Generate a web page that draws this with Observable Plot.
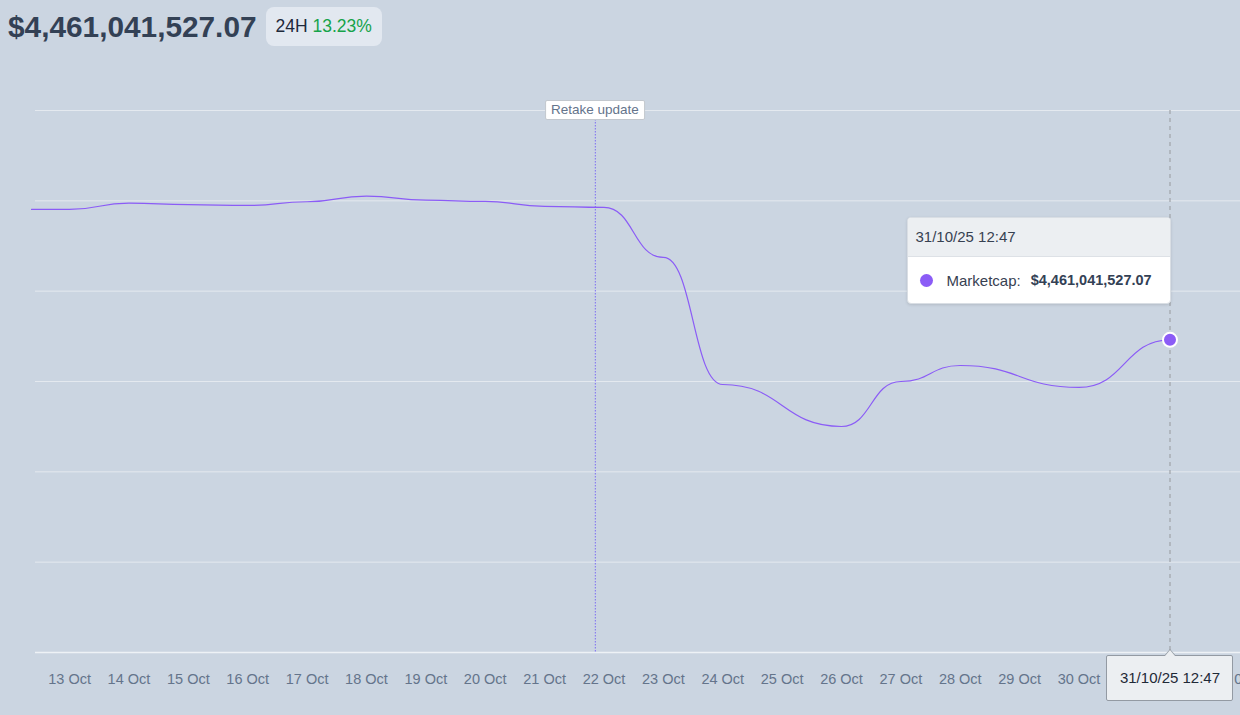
<!DOCTYPE html>
<html>
<head>
<meta charset="utf-8">
<script src="https://cdn.jsdelivr.net/npm/d3@7"></script>
<script src="https://cdn.jsdelivr.net/npm/@observablehq/plot@0.6"></script>
<style>
html,body{margin:0;padding:0;background:#cbd5e1;width:1240px;height:715px;overflow:hidden;font-family:"Liberation Sans",Arial,Helvetica,sans-serif;}
#wrap{position:relative;width:1240px;height:715px;overflow:hidden;}
#chart{position:absolute;left:0;top:0;}
#header{position:absolute;left:8px;top:7px;height:39px;display:flex;align-items:center;}
#big{font-size:29.8px;font-weight:700;color:#334155;white-space:nowrap;}
#badge{margin-left:9px;background:#e2e8f0;border-radius:8px;height:39px;line-height:39px;padding:0 10px;font-size:17.5px;color:#1e293b;white-space:nowrap;}
#badge .up{color:#16a34a;}
.annot{position:absolute;background:#fff;border:1px solid #c3c8ce;border-radius:2px;font-size:13.5px;color:#64748b;padding:0 5px;height:18px;line-height:18px;white-space:nowrap;transform:translate(-50%,-50%);}
#tip{position:absolute;width:262px;background:#fff;border:1px solid #d9dee4;border-radius:4px;box-shadow:0 1px 3px rgba(0,0,0,0.12);overflow:hidden;}
#tip .hd{background:#eceff2;height:38px;line-height:38px;padding-left:7px;font-size:15px;color:#374151;border-bottom:1px solid #dde1e6;}
#tip .bd{height:46px;display:flex;align-items:center;padding-left:12px;font-size:15px;color:#374151;}
#tip .sw{width:13px;height:13px;border-radius:50%;background:#8b5cf6;margin-right:13px;}
#tip .val{font-weight:700;font-size:14.5px;color:#334155;margin-left:10px;}
#xlab{position:absolute;width:125px;height:44px;line-height:44px;text-align:center;background:#eceff2;border:1px solid #939aa3;border-radius:2px;font-size:15px;color:#1f2937;}
#xlab:before{content:"";position:absolute;left:50%;top:-7px;margin-left:-6px;border-left:6px solid transparent;border-right:6px solid transparent;border-bottom:7px solid #939aa3;}
#xlab:after{content:"";position:absolute;left:50%;top:-6px;margin-left:-5px;border-left:5px solid transparent;border-right:5px solid transparent;border-bottom:6px solid #eceff2;}
</style>
</head>
<body>
<div id="wrap">
  <div id="chart"></div>
  <div id="header"><div id="big"></div><div id="badge"></div></div>
</div>
<script>
// ---- data ----
const dates = [
  "2025-10-12T08:36Z","2025-10-13T00:00Z","2025-10-14T00:00Z","2025-10-15T00:00Z","2025-10-16T00:00Z",
  "2025-10-17T00:00Z","2025-10-18T00:00Z","2025-10-19T00:00Z","2025-10-20T00:00Z","2025-10-21T00:00Z",
  "2025-10-22T00:00Z","2025-10-23T00:00Z","2025-10-24T00:00Z","2025-10-26T00:00Z",
  "2025-10-27T00:00Z","2025-10-28T00:00Z","2025-10-30T00:00Z",
  "2025-10-31T12:47Z"
];
const marketcap = [
  5.905e9, 5.905e9, 5.975e9, 5.957e9, 5.949e9,
  5.990e9, 6.052e9, 6.008e9, 5.993e9, 5.938e9,
  5.927e9, 5.373e9, 3.967e9, 3.502e9,
  4.000e9, 4.177e9, 3.934e9,
  4461041527.07
];
const xDomain = ["2025-10-12T08:36Z", "2025-11-03T00:00Z"];
const yDomain = [1e9, 7e9];
const yGridValues = [1e9, 2e9, 3e9, 4e9, 5e9, 6e9, 7e9];
const annotationDate = "2025-10-21T20:30Z";
const annotationLabel = "Retake update";
const change24h = 13.23;
const seriesName = "Marketcap";

// ---- build ----
const data = dates.map((d, i) => ({date: new Date(d), cap: marketcap[i]}));
const last = data[data.length - 1];
const xd = xDomain.map(d => new Date(d));
const money = v => "$" + d3.format(",.2f")(v);
const stamp = d3.utcFormat("%d/%m/%y %H:%M");
// day ticks, leaving out the ones that sit under the crosshair label box
const allTicks = d3.utcDay.range(d3.utcDay.ceil(xd[0]), xd[1]);
const hidden = [d3.utcDay.floor(last.date), d3.utcDay.ceil(last.date)].map(d => +d);
const tickDates = allTicks.filter(d => !hidden.includes(+d));

const chart = Plot.plot({
  width: 1316,
  height: 715,
  marginTop: 110,
  marginBottom: 63,
  marginLeft: 31,
  marginRight: 0,
  style: {background: "transparent", maxWidth: "none", overflow: "visible", fontFamily: '"Liberation Sans", Arial, sans-serif', fontSize: "14.5px"},
  x: {type: "utc", domain: xd},
  y: {domain: yDomain, axis: null},
  marks: [
    Plot.ruleY(yGridValues.slice(1), {stroke: "#e4e9ef", strokeWidth: 1, insetLeft: 4}),
    Plot.ruleY([yDomain[0]], {stroke: "#eef2f6", strokeWidth: 1.5, insetLeft: 4}),
    Plot.axisX(tickDates, {tickSize: 0, tickPadding: 21, tickFormat: d3.utcFormat("%d %b"), color: "#64748b", fontSize: 14.5}),
    Plot.ruleX([new Date(annotationDate)], {stroke: "#7c6cf2", strokeWidth: 1, strokeDasharray: "1.5,1.5", y1: yDomain[1], y2: yDomain[0]}),
    Plot.ruleX([last.date], {stroke: "#a3a8ae", strokeWidth: 1.3, strokeDasharray: "4,4", y1: yDomain[1], y2: yDomain[0]}),
    Plot.line(data, {x: "date", y: "cap", curve: "bump-x", stroke: "#8b5cf6", strokeWidth: 1.2}),
    Plot.dot([last], {x: "date", y: "cap", r: 7, fill: "#8b5cf6", stroke: "#ffffff", strokeWidth: 2})
  ]
});
document.getElementById("chart").appendChild(chart);

// ---- overlays positioned through Plot's scales ----
const X = chart.scale("x"), Y = chart.scale("y");
const ax = X.apply(new Date(annotationDate));
const topY = Y.apply(yDomain[1]);
const botY = Y.apply(yDomain[0]);
const lx = X.apply(last.date), ly = Y.apply(last.cap);
const wrap = document.getElementById("wrap");

document.getElementById("big").textContent = money(last.cap);
document.getElementById("badge").innerHTML = '24H <span class="up">' + change24h.toFixed(2) + '%</span>';

const a = document.createElement("div");
a.className = "annot";
a.textContent = annotationLabel;
a.style.left = ax + "px";
a.style.top = topY + "px";
wrap.appendChild(a);

const tip = document.createElement("div");
tip.id = "tip";
tip.innerHTML = '<div class="hd">' + stamp(last.date) + '</div><div class="bd"><div class="sw"></div><span>' + seriesName + ':</span><span class="val">' + money(last.cap) + '</span></div>';
tip.style.left = (lx - 262) + "px";
tip.style.top = (ly - 122) + "px";
wrap.appendChild(tip);

const xl = document.createElement("div");
xl.id = "xlab";
xl.textContent = stamp(last.date);
xl.style.left = (lx - 63) + "px";
xl.style.top = (botY + 3) + "px";
wrap.appendChild(xl);
</script>
</body>
</html>
